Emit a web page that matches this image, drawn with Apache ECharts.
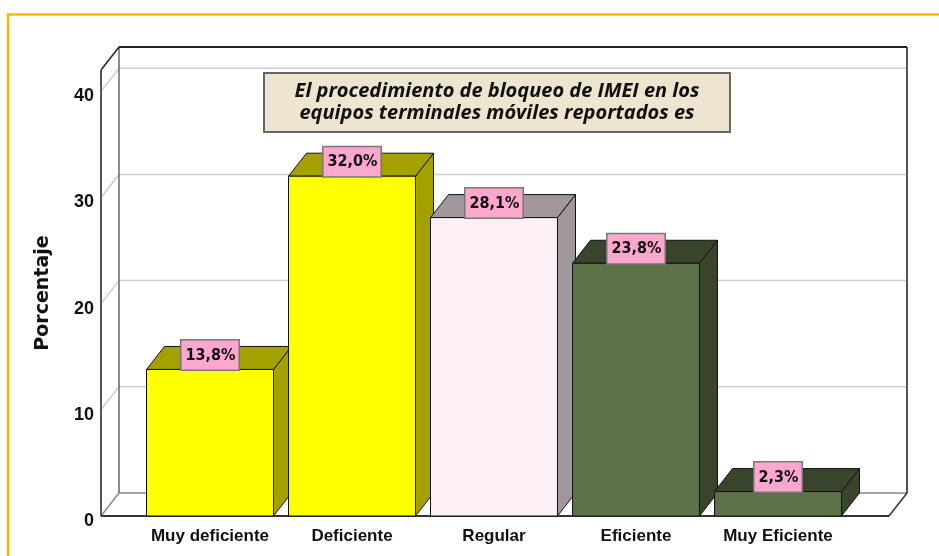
<!DOCTYPE html>
<html>
<head>
<meta charset="utf-8">
<script src="https://cdn.jsdelivr.net/npm/echarts@6/dist/echarts.min.js"></script>
<style>
  html, body { margin: 0; padding: 0; background: #fff; }
  #chart { width: 939px; height: 556px; }
</style>
</head>
<body>
<div id="chart"></div>
<script>
const categories = ['Muy deficiente', 'Deficiente', 'Regular', 'Eficiente', 'Muy Eficiente']
const values = [13.8, 32.0, 28.1, 23.8, 2.3]
const yTicks = [0, 10, 20, 30, 40]
const frontColors = ['#FFFF00', '#FFFF00', '#FDEFF6', '#5E7249', '#5E7249']
const sideColors = ['#A3A000', '#A3A000', '#A0979C', '#38452C', '#38452C']
const titleText = 'El procedimiento de bloqueo de IMEI en los\nequipos terminales móviles reportados es'

// 3d look
const DX = 18, DY = -23
const WALL_L = 38, WALL_R = 40

const fmt = v => v.toFixed(1).replace('.', ',') + '%'

const wallEdges = p => {
    const cs = p.coordSys
    return { xl: cs.x - WALL_L, xr: cs.x + cs.width + WALL_R, top: cs.y, bottom: cs.y + cs.height }
}

const line = (x1, y1, x2, y2, stroke, w) => ({
    type: 'line', shape: { x1, y1, x2, y2 }, style: { stroke, lineWidth: w }
})

const chart = echarts.init(document.getElementById('chart'))

chart.setOption({
    animation: false,
    grid: { left: 139, right: 90, top: 70, bottom: 40 },
    xAxis: {
        type: 'category', data: categories,
        axisLine: { show: false }, axisTick: { show: false },
        axisLabel: { interval: 0, fontFamily: 'Liberation Sans', fontWeight: 'bold', fontSize: 17, color: '#111', margin: 12 }
    },
    yAxis: {
        type: 'value', min: 0, max: 42, interval: 10,
        name: 'Porcentaje', nameLocation: 'middle', nameGap: 86, nameRotate: 90,
        nameTextStyle: { fontFamily: 'DejaVu Sans', fontWeight: 'bold', fontSize: 19, color: '#111' },
        axisLine: { show: false }, axisTick: { show: false }, splitLine: { show: false },
        axisLabel: {
            margin: 45,
            formatter: v => (v % 10 === 0 ? '{v|' + v + '}' : ''),
            rich: {
                v: { fontFamily: 'Liberation Sans', fontWeight: 'bold', fontSize: 18, color: '#111', padding: [10, 0, 0, 0] }
            }
        }
    },
    series: [
        {
            // wall gridlines
            type: 'custom', silent: true, z: 1,
            data: yTicks.map(v => [0, v]),
            renderItem: (p, api) => {
                const e = wallEdges(p)
                const y = api.coord([0, api.value(1)])[1]
                const c = api.value(1) === 0 ? '#8a8a8a' : '#cfcfcf'
                return {
                    type: 'group', children: [
                        line(e.xl, y, e.xl + DX, y + DY, c, 1.5),
                        line(e.xl + DX, y + DY, e.xr + DX, y + DY, c, 1.5)
                    ]
                }
            }
        },
        {
            // wall frame
            type: 'custom', silent: true, z: 2,
            data: [[0, 0]],
            renderItem: (p, api) => {
                const e = wallEdges(p)
                return {
                    type: 'group', children: [
                        line(e.xl + DX, e.top + DY, e.xl + DX, e.bottom + DY, '#666', 1.5),
                        line(e.xr + DX, e.top + DY, e.xr + DX, e.bottom + DY, '#555', 2),
                        line(e.xl, e.top, e.xl + DX, e.top + DY, '#222', 1.5),
                        line(e.xl + DX, e.top + DY, e.xr + DX, e.top + DY, '#222', 2),
                        line(e.xl, e.top, e.xl, e.bottom, '#555', 2),
                        line(e.xl, e.bottom, e.xr, e.bottom, '#333', 2),
                        line(e.xr, e.bottom, e.xr + DX, e.bottom + DY, '#333', 1.5)
                    ]
                }
            }
        },
        {
            type: 'custom', z: 3,
            data: values.map((v, i) => [i, v]),
            renderItem: (p, api) => {
                const i = api.value(0)
                const v = api.value(1)
                const base = api.coord([i, 0])
                const topY = api.coord([i, v])[1]
                const w = api.size([1, 0])[0] * 0.894
                const x0 = base[0] - w / 2, x1 = base[0] + w / 2, y0 = base[1]
                const st = c => ({ fill: c, stroke: '#111', lineWidth: 1 })
                return {
                    type: 'group', children: [
                        { type: 'polygon', shape: { points: [[x1, topY], [x1 + DX, topY + DY], [x1 + DX, y0 + DY], [x1, y0]] }, style: st(sideColors[i]) },
                        { type: 'polygon', shape: { points: [[x0, topY], [x0 + DX, topY + DY], [x1 + DX, topY + DY], [x1, topY]] }, style: st(sideColors[i]) },
                        { type: 'rect', shape: { x: x0, y: topY, width: w, height: y0 - topY }, style: st(frontColors[i]) },
                        {
                            type: 'text', x: base[0], y: topY,
                            style: {
                                text: fmt(v), x: 0, y: 0, align: 'center', verticalAlign: 'bottom',
                                fontFamily: "'Liberation Sans Narrow', 'DejaVu Sans Condensed', sans-serif",
                                fontWeight: 'bold', fontSize: 16, fill: '#111',
                                backgroundColor: '#FBA7CE', borderColor: '#777', borderWidth: 1.5,
                                padding: [7, 3, 6, 4]
                            }
                        }
                    ]
                }
            }
        }
    ],
    graphic: [
        {
            type: 'polyline', silent: true,
            shape: { points: [[8, 556], [8, 14.5], [939, 14.5]] },
            style: { stroke: '#F7BE00', lineWidth: 2.5, fill: null }
        },
        {
            type: 'rect', silent: true, z: 10,
            shape: { x: 264, y: 73, width: 466, height: 59 },
            style: { fill: '#EDE5D0', stroke: '#666', lineWidth: 2 }
        },
        {
            type: 'text', silent: true, z: 11,
            x: 497, y: 102.5,
            style: {
                text: titleText, align: 'center', verticalAlign: 'middle',
                fontFamily: 'Open Sans', fontStyle: 'italic', fontWeight: 'bold',
                fontSize: 20, lineHeight: 22, fill: '#111'
            }
        }
    ]
})
</script>
</body>
</html>
